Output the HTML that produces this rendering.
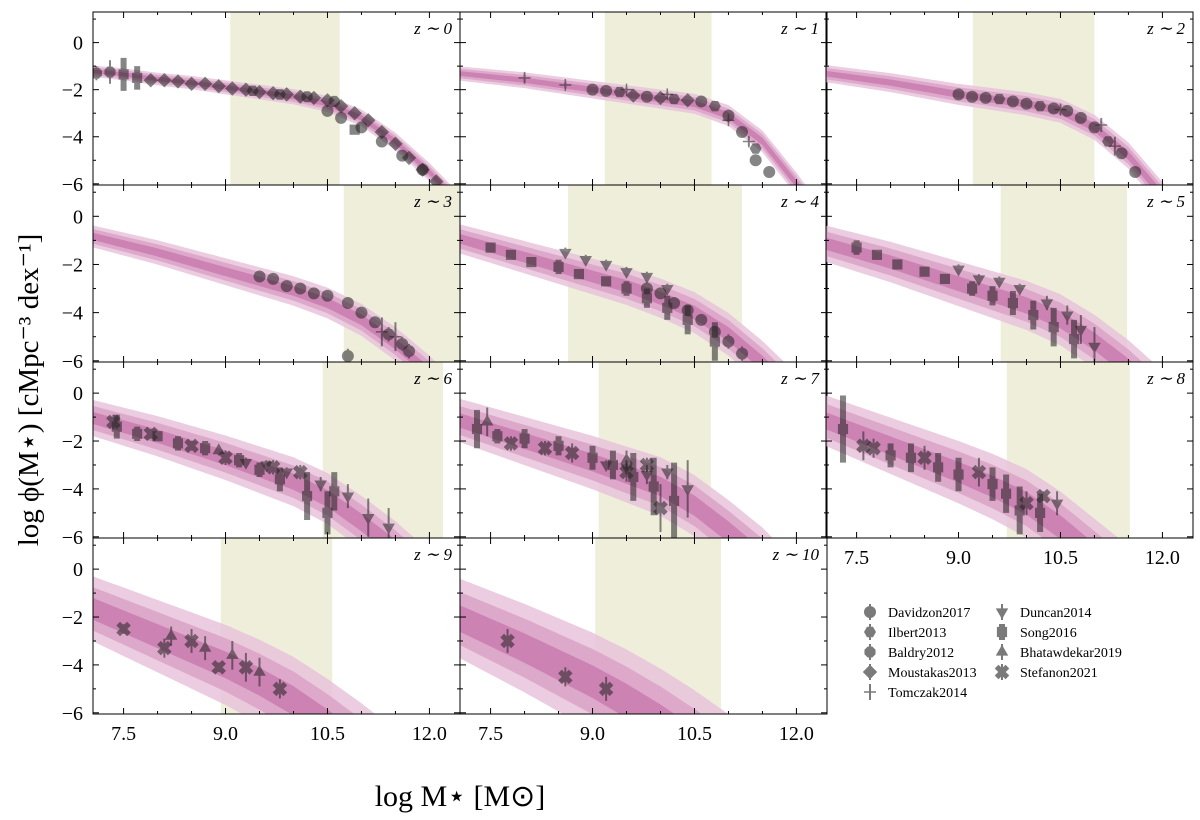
<!DOCTYPE html>
<html><head><meta charset="utf-8"><style>
html,body{margin:0;padding:0;background:#fff;overflow:hidden;width:1200px;height:820px;}
svg{display:block;}
svg text{font-family:"Liberation Serif",serif;}
</style></head><body>
<svg id="c" width="1200" height="820" xmlns="http://www.w3.org/2000/svg"></svg>
<script>
const NS="http://www.w3.org/2000/svg";
// ---- data ----
const panelLabels=["z ∼ 0","z ∼ 1","z ∼ 2","z ∼ 3","z ∼ 4","z ∼ 5","z ∼ 6","z ∼ 7","z ∼ 8","z ∼ 9","z ∼ 10"];
const shadeLo=[9.07,9.18,9.21,10.74,8.64,9.62,10.43,9.09,9.71,8.93,9.04];
const shadeHi=[10.68,10.75,11.0,12.5,11.2,11.48,12.2,10.74,11.52,10.57,10.89];
const modelX=[7.0,7.5,8.0,8.5,9.0,9.5,10.0,10.5,11.0,11.5,12.0,12.5];
const modelY=[
[-1.2,-1.35,-1.55,-1.7,-1.9,-2.1,-2.3,-2.6,-3.2,-4.2,-5.5,-7.0],
[-1.3,-1.45,-1.6,-1.8,-2.0,-2.2,-2.4,-2.6,-3.1,-4.2,-6.0,-8.0],
[-1.3,-1.5,-1.7,-1.95,-2.2,-2.4,-2.6,-2.9,-3.6,-4.8,-6.5,-8.5],
[-0.8,-1.15,-1.5,-1.9,-2.3,-2.7,-3.1,-3.6,-4.3,-5.3,-6.5,-8.0],
[-0.9,-1.3,-1.7,-2.1,-2.5,-2.9,-3.4,-4.0,-4.9,-6.1,-7.5,-9.0],
[-1.1,-1.5,-1.9,-2.35,-2.8,-3.25,-3.7,-4.3,-5.2,-6.3,-7.6,-9.0],
[-1.0,-1.4,-1.8,-2.25,-2.7,-3.2,-3.7,-4.4,-5.4,-6.5,-7.8,-9.0],
[-1.1,-1.55,-2.0,-2.45,-2.9,-3.4,-3.9,-4.7,-5.8,-7.0,-8.5,-10],
[-1.1,-1.65,-2.2,-2.75,-3.3,-3.9,-4.6,-5.6,-6.8,-8.0,-9.5,-11],
[-1.6,-2.2,-2.8,-3.4,-4.0,-4.7,-5.5,-6.5,-7.6,-8.8,-10,-11],
[-2.0,-2.65,-3.3,-4.0,-4.7,-5.5,-6.4,-7.4,-8.5,-9.6,-11,-12]];
const bandHalf=[0.08,0.1,0.12,0.15,0.2,0.25,0.25,0.3,0.35,0.45,0.55];
const legendNames=["Davidzon2017","Ilbert2013","Baldry2012","Moustakas2013","Tomczak2014","Duncan2014","Song2016","Bhatawdekar2019","Stefanon2021"];
// points: [logM, logphi, err, markerIndex]
const points=[
[[7.1,-1.3,0.3,2],[7.3,-1.25,0.5,2],[7.5,-1.35,0.7,6],[7.7,-1.5,0.5,6],[7.9,-1.6,0.2,3],[8.1,-1.6,0.15,3],[8.3,-1.65,0.1,3],[8.5,-1.75,0.1,3],[8.7,-1.75,0.1,3],[8.9,-1.85,0.1,3],[9.1,-1.95,0.1,3],[9.3,-2.0,0.1,3],[9.5,-2.1,0.1,3],[9.7,-2.15,0.1,3],[9.9,-2.2,0.1,3],[10.1,-2.3,0.1,3],[10.3,-2.35,0.1,3],[10.5,-2.45,0.1,3],[10.7,-2.7,0.1,3],[10.9,-3.0,0.1,3],[11.1,-3.3,0.1,3],[11.3,-3.8,0.1,3],[11.5,-4.3,0.1,3],[11.7,-4.9,0.1,3],[11.9,-5.4,0.1,3],[12.1,-5.9,0.1,3],[10.5,-2.9,0.1,0],[10.7,-3.2,0.1,0],[11.0,-3.6,0.1,0],[11.3,-4.2,0.1,0],[11.6,-4.8,0.1,0],[11.9,-5.4,0.1,0],[10.9,-3.7,0.15,6],[9.4,-2.05,0.1,1],[9.8,-2.2,0.1,1],[10.2,-2.3,0.1,2],[10.6,-2.5,0.1,2]],
[[8.0,-1.5,0.2,4],[8.6,-1.8,0.15,4],[9.0,-2.0,0.15,0],[9.2,-2.05,0.1,0],[9.4,-2.1,0.1,1],[9.6,-2.25,0.1,3],[9.8,-2.3,0.1,0],[10.0,-2.35,0.1,3],[10.2,-2.4,0.1,1],[10.4,-2.45,0.1,3],[10.6,-2.5,0.1,0],[10.8,-2.7,0.1,1],[11.0,-3.1,0.1,0],[11.2,-3.8,0.1,0],[11.4,-4.5,0.15,1],[11.6,-5.5,0.2,0],[11.0,-3.3,0.1,4],[11.3,-4.2,0.2,4],[11.4,-5.0,0.2,0],[9.5,-2.0,0.1,4],[10.1,-2.2,0.1,4]],
[[9.0,-2.2,0.1,0],[9.2,-2.3,0.1,0],[9.4,-2.35,0.1,0],[9.6,-2.4,0.1,1],[9.8,-2.5,0.1,0],[10.0,-2.6,0.1,0],[10.2,-2.7,0.1,1],[10.4,-2.8,0.1,0],[10.6,-2.9,0.1,0],[10.8,-3.2,0.1,0],[11.0,-3.6,0.1,0],[11.2,-4.2,0.15,1],[11.4,-4.7,0.2,0],[11.6,-5.5,0.2,0],[10.5,-2.85,0.2,4],[11.1,-3.5,0.3,4],[11.3,-4.4,0.4,4]],
[[9.5,-2.5,0.1,0],[9.7,-2.6,0.1,0],[9.9,-2.9,0.1,0],[10.1,-3.0,0.1,0],[10.3,-3.2,0.1,0],[10.5,-3.3,0.1,0],[10.8,-3.6,0.1,0],[11.0,-4.0,0.15,0],[11.2,-4.4,0.2,0],[11.4,-4.9,0.3,0],[11.6,-5.3,0.3,0],[10.8,-5.8,0.3,0],[11.3,-4.8,0.6,4],[11.5,-5.0,0.6,4],[11.7,-5.6,0.3,0]],
[[7.5,-1.3,0.2,6],[7.8,-1.6,0.2,6],[8.1,-1.9,0.2,6],[8.5,-2.1,0.3,6],[8.8,-2.4,0.2,6],[9.2,-2.7,0.2,6],[9.5,-3.0,0.3,6],[9.8,-3.4,0.4,6],[10.1,-3.8,0.5,6],[10.4,-4.3,0.6,6],[10.8,-5.2,0.8,6],[8.6,-1.5,0.2,5],[8.9,-1.8,0.2,5],[9.2,-2.0,0.2,5],[9.5,-2.3,0.2,5],[9.8,-2.5,0.2,5],[10.1,-3.0,0.2,5],[9.8,-3.0,0.1,0],[10.0,-3.2,0.1,0],[10.2,-3.6,0.15,0],[10.4,-3.9,0.2,0],[10.6,-4.3,0.2,0],[10.8,-4.8,0.2,0],[11.0,-5.2,0.3,0],[11.2,-5.7,0.3,0]],
[[7.5,-1.3,0.3,6],[7.8,-1.6,0.2,6],[8.1,-2.0,0.2,6],[8.5,-2.3,0.2,6],[8.8,-2.6,0.2,6],[9.2,-3.0,0.3,6],[9.5,-3.3,0.4,6],[9.8,-3.6,0.5,6],[10.1,-4.1,0.6,6],[10.4,-4.6,0.8,6],[10.7,-5.1,0.8,6],[9.0,-2.2,0.2,5],[9.3,-2.6,0.2,5],[9.6,-2.7,0.2,5],[9.9,-3.0,0.2,5],[10.3,-3.6,0.3,5],[10.6,-4.1,0.4,5],[10.8,-4.7,0.6,5],[11.0,-5.4,0.8,5]],
[[7.35,-1.2,0.3,8],[7.4,-1.4,0.5,6],[7.7,-1.7,0.3,6],[7.9,-1.7,0.2,8],[8.0,-1.8,0.2,6],[8.3,-2.1,0.3,6],[8.5,-2.2,0.2,8],[8.7,-2.3,0.3,6],[8.9,-2.4,0.2,7],[9.0,-2.7,0.3,8],[9.2,-2.8,0.3,6],[9.5,-3.2,0.3,6],[9.8,-3.6,0.5,6],[10.2,-4.3,1.0,6],[10.5,-5.0,0.9,6],[9.3,-2.9,0.2,5],[9.6,-3.0,0.2,5],[9.9,-3.3,0.2,5],[10.4,-3.8,0.3,5],[10.8,-4.3,0.5,5],[11.1,-5.2,0.8,5],[11.4,-5.6,0.8,5],[9.7,-3.1,0.3,8],[10.1,-3.3,0.3,8],[10.6,-4.1,0.8,6]],
[[7.3,-1.5,0.8,6],[7.45,-1.2,0.6,7],[7.6,-1.8,0.3,6],[7.8,-2.1,0.3,8],[8.0,-1.9,0.4,6],[8.3,-2.3,0.3,8],[8.5,-2.2,0.4,6],[8.7,-2.5,0.4,8],[9.0,-2.7,0.5,6],[9.3,-3.0,0.6,6],[9.6,-3.5,1.0,6],[9.9,-3.9,1.2,6],[10.2,-4.5,1.6,6],[10.0,-4.8,1.0,8],[9.5,-3.3,0.4,8],[9.2,-3.0,0.2,5],[9.5,-3.1,0.3,5],[9.8,-3.4,0.4,5],[10.1,-3.3,0.3,5],[10.4,-4.0,1.2,5],[9.5,-2.8,0.4,7],[9.8,-3.0,0.3,8]],
[[7.3,-1.5,1.4,6],[7.6,-2.2,0.6,8],[7.75,-2.3,0.4,8],[8.0,-2.6,0.5,6],[8.3,-2.7,0.6,6],[8.5,-2.7,0.5,8],[8.7,-3.1,0.6,6],[9.0,-3.4,0.7,6],[9.3,-3.3,0.6,8],[9.5,-3.8,0.7,6],[9.7,-4.2,0.8,6],[10.0,-4.6,0.5,8],[10.25,-4.3,0.2,8],[9.9,-4.9,1.0,6],[10.45,-4.6,0.5,5],[10.2,-5.0,0.8,6]],
[[7.5,-2.5,0.2,8],[8.1,-3.3,0.4,8],[8.2,-2.8,0.4,7],[8.5,-3.0,0.5,8],[8.7,-3.3,0.5,7],[8.9,-4.1,0.2,8],[9.1,-3.6,0.6,7],[9.3,-4.1,0.6,8],[9.5,-4.3,0.6,7],[9.8,-5.0,0.4,8]],
[[7.75,-3.0,0.5,8],[8.6,-4.5,0.4,8],[9.2,-5.0,0.5,8]]
];
// ---- layout ----
const colX=[93,460,826], rowY=[12,185,362,538], PW=367, PH=[173,177,176,176];
const xmin=7.05,xmax=12.45,ymin=-6.05,ymax=1.3;
const svg=document.getElementById('c');
function el(t,a,p){const e=document.createElementNS(NS,t);for(const k in a)e.setAttribute(k,a[k]);(p||svg).appendChild(e);return e;}
function txt(s,a,p){const e=el('text',a,p);e.textContent=s;return e;}
function interp(xs,ys,x){for(let i=0;i<xs.length-1;i++){if(x<=xs[i+1]){const t=(x-xs[i])/(xs[i+1]-xs[i]);return ys[i]+t*(ys[i+1]-ys[i]);}}return ys[ys.length-1];}
function marker(g,m,cx,cy,r,fill){
  const a={fill:fill,stroke:'none'};
  if(m===0)return el('circle',Object.assign({cx:cx,cy:cy,r:r},a),g);
  if(m===4){return el('path',{d:`M${cx-r} ${cy}H${cx+r}M${cx} ${cy-r}V${cy+r}`,stroke:fill,'stroke-width':1.5,fill:'none'},g);}
  let pts=[];
  const poly=(n,off,rr)=>{for(let i=0;i<n;i++){const t=off+i*2*Math.PI/n;pts.push([cx+rr*Math.cos(t),cy+rr*Math.sin(t)]);}};
  if(m===1)poly(6,0,r);else if(m===2)poly(8,Math.PI/8,r);else if(m===3)poly(4,0,r*1.2);
  else if(m===5)poly(3,Math.PI/2,r*1.2);else if(m===6)poly(4,Math.PI/4,r*1.2);else if(m===7)poly(3,-Math.PI/2,r*1.2);
  else if(m===8){const s=r*0.9,w=r*0.4;return el('path',{d:`M${cx-s} ${cy-s}L${cx+s} ${cy+s}M${cx+s} ${cy-s}L${cx-s} ${cy+s}`,stroke:fill,'stroke-width':w*2.2,fill:'none'},g);}
  return el('polygon',Object.assign({points:pts.map(p=>p.join(',')).join(' ')},a),g);
}
const defs=el('defs',{});
for(let i=0;i<11;i++){
  const c=i%3,r=Math.floor(i/3);
  const X0=colX[c],Y0=rowY[r],H=PH[r];
  const sx=v=>X0+(v-xmin)/(xmax-xmin)*PW;
  const syRaw=v=>Y0+(ymax-v)/(ymax-ymin)*H;
  const sy=v=>Math.max(Y0-2,Math.min(Y0+H+2,syRaw(v)));
  const g=el('g',{});
  
  
  const cp=el('clipPath',{id:'cp'+i},defs);el('rect',{x:X0,y:Y0,width:PW,height:H},cp);
  const inner=el('g',{'clip-path':'url(#cp'+i+')'},g);
  const sh=el('rect',{x:sx(shadeLo[i]),y:Y0,width:Math.min(X0+PW,sx(shadeHi[i]))-sx(shadeLo[i]),height:H,fill:'#efeedb'},inner);
  
  
  const bandCols=['#e7c3db','#dba2c6','#c97db0'];
  [3,2,1].forEach((k,j)=>{
    let up=[],dn=[];
    for(let x=7.0;x<=12.51;x+=0.05){const y=interp(modelX,modelY[i],x);const hw=bandHalf[i]*k*(1+(x-7)*0.12);up.push([Math.max(X0,Math.min(X0+PW,sx(x))),sy(y+hw)]);dn.unshift([Math.max(X0,Math.min(X0+PW,sx(x))),sy(y-hw)]);}
    const b=el('polygon',{points:up.concat(dn).map(p=>p.join(',')).join(' '),fill:bandCols[j],opacity:0.85},inner);
    
    
  });
  points[i].forEach(p=>{
    const pg=el('g',{opacity:0.55},inner);
    
    
    el('line',{x1:sx(p[0]),x2:sx(p[0]),y1:sy(p[1]+p[2]),y2:sy(p[1]-p[2]),stroke:'#222','stroke-width':p[3]===6?6:2},pg);
    marker(pg,p[3],sx(p[0]),sy(p[1]),6,'#222');
  });
  el('rect',{x:X0,y:Y0,width:PW,height:H,fill:'none',stroke:'#000','stroke-width':1},g);
  [-6,-5,-4,-3,-2,-1,0,1].forEach(v=>{const y=syRaw(v);const L=(v%2===0)?6:3;
    el('line',{x1:X0,x2:X0+L,y1:y,y2:y,stroke:'#000'},g);el('line',{x1:X0+PW,x2:X0+PW-L,y1:y,y2:y,stroke:'#000'},g);
    if(c===0&&v%2===0&&v<=0){const t=txt(v===0?'0':'−'+(-v),{x:X0-10,y:y+7,'text-anchor':'end','font-size':20},g);}
  });
  for(let v=7.5;v<=12.3;v+=0.5){const x=sx(v);const L=(Math.abs((v-7.5)/1.5-Math.round((v-7.5)/1.5))<0.01)?6:3;
    el('line',{x1:x,x2:x,y1:Y0+H,y2:Y0+H-L,stroke:'#000'},g);el('line',{x1:x,x2:x,y1:Y0,y2:Y0+L,stroke:'#000'},g);}
  if(i>=8){[7.5,9.0,10.5,12.0].forEach(v=>{const t=txt(v.toFixed(1),{x:sx(v),y:Y0+H+26,'text-anchor':'middle','font-size':20},g);});}
  const lab=txt(panelLabels[i],{x:X0+PW-8,y:Y0+22,'text-anchor':'end','font-size':17,'font-style':'italic'},g);
  
}
const lg=el('g',{});


legendNames.forEach((n,k)=>{
  const col=k<5?0:1,row=k<5?k:k-5;
  const mx=col?1002:870, y=612+row*20;
  const eg=el('g',{},lg);
  
  
  const mg=el('g',{opacity:0.6},eg);
  el('line',{x1:mx,x2:mx,y1:y-8,y2:y+8,stroke:'#222','stroke-width':k===6?6:2},mg);
  marker(mg,k,mx,y,6,'#222');
  txt(n,{x:mx+18,y:y+5,'font-size':14},eg);
});
const yl=txt('log ϕ(M⋆) [cMpc⁻³ dex⁻¹]',{x:0,y:0,transform:'translate(38,390) rotate(-90)','text-anchor':'middle','font-size':29});

const xl=txt('log M⋆ [M⊙]',{x:460,y:806,'text-anchor':'middle','font-size':30});

</script>
</body></html>
